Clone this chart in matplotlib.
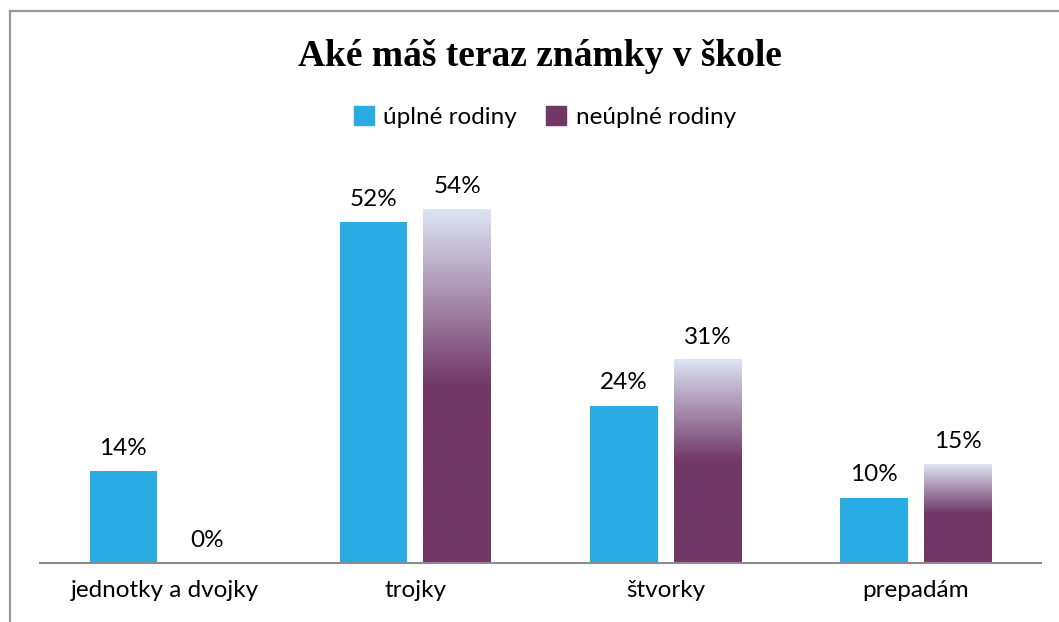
import numpy as np
import matplotlib
matplotlib.use("Agg")
import matplotlib.pyplot as plt
from matplotlib.colors import LinearSegmentedColormap
from matplotlib.patches import Patch
from matplotlib.lines import Line2D

categories = ["jednotky a dvojky", "trojky", "štvorky", "prepadám"]
uplne = [14, 52, 24, 10]
neuplne = [0, 54, 31, 15]
series_names = ["úplné rodiny", "neúplné rodiny"]

BLUE = "#29abe3"
PURPLE = "#713767"
LIGHT = "#dde4f2"
FONT = "Lato"
FS = 17.5

fig = plt.figure(figsize=(10.59, 6.22), dpi=100)
ax = fig.add_axes([40 / 1059, (622 - 563) / 622, 1001 / 1059, 393 / 622])

x = np.arange(len(categories))
w = 0.27
off = 0.167

ax.bar(x - off, uplne, width=w, color=BLUE, zorder=2)

# purple bars with a light-to-dark fade in the top half
cmap = LinearSegmentedColormap.from_list("fade", [(0, PURPLE), (0.5, PURPLE), (1, LIGHT)])
grad = np.linspace(1, 0, 256).reshape(-1, 1)
for xi, v in zip(x, neuplne):
    if v <= 0:
        continue
    ax.imshow(grad, cmap=cmap, vmin=0, vmax=1, aspect="auto",
              extent=[xi + off - w / 2, xi + off + w / 2, 0, v], zorder=2,
              interpolation="bilinear")

for xi, v in zip(x, uplne):
    ax.text(xi - off, v + 1.9, f"{v}%", ha="center", va="bottom",
            fontsize=FS, family=FONT)
for xi, v in zip(x, neuplne):
    ax.text(xi + off, v + 1.9, f"{v}%", ha="center", va="bottom",
            fontsize=FS, family=FONT)

ax.set_xlim(-0.5, len(categories) - 0.5)
ax.set_ylim(0, 60)
ax.set_xticks(x)
ax.set_xticklabels(categories, fontsize=FS, family=FONT)
ax.tick_params(axis="x", length=0, pad=12)
ax.set_yticks([])
for s in ["top", "right", "left"]:
    ax.spines[s].set_visible(False)
ax.spines["bottom"].set_color("#8c8c8c")
ax.spines["bottom"].set_linewidth(1.5)

# outer frame (cut off at the right and bottom)
fig.add_artist(Line2D([10 / 1059, 1.0], [1 - 11 / 622] * 2, color="#999999", lw=1.6,
                      transform=fig.transFigure))
fig.add_artist(Line2D([10 / 1059] * 2, [0, 1 - 11 / 622], color="#999999", lw=1.6,
                      transform=fig.transFigure))

fig.text(540 / 1059, 1 - 56 / 622, "Aké máš teraz známky v škole", ha="center", va="center",
         fontsize=27, fontweight="bold", family="Liberation Serif")

handles = [Patch(color=BLUE), Patch(color=PURPLE)]
fig.legend(handles, series_names, loc="center", bbox_to_anchor=(545 / 1059, 1 - 117 / 622),
           ncol=2, frameon=False, prop={"family": FONT, "size": FS},
           handlelength=0.8, handleheight=0.8, handletextpad=0.4, columnspacing=1.2)

fig.savefig("out.png", dpi=100, facecolor="white")
